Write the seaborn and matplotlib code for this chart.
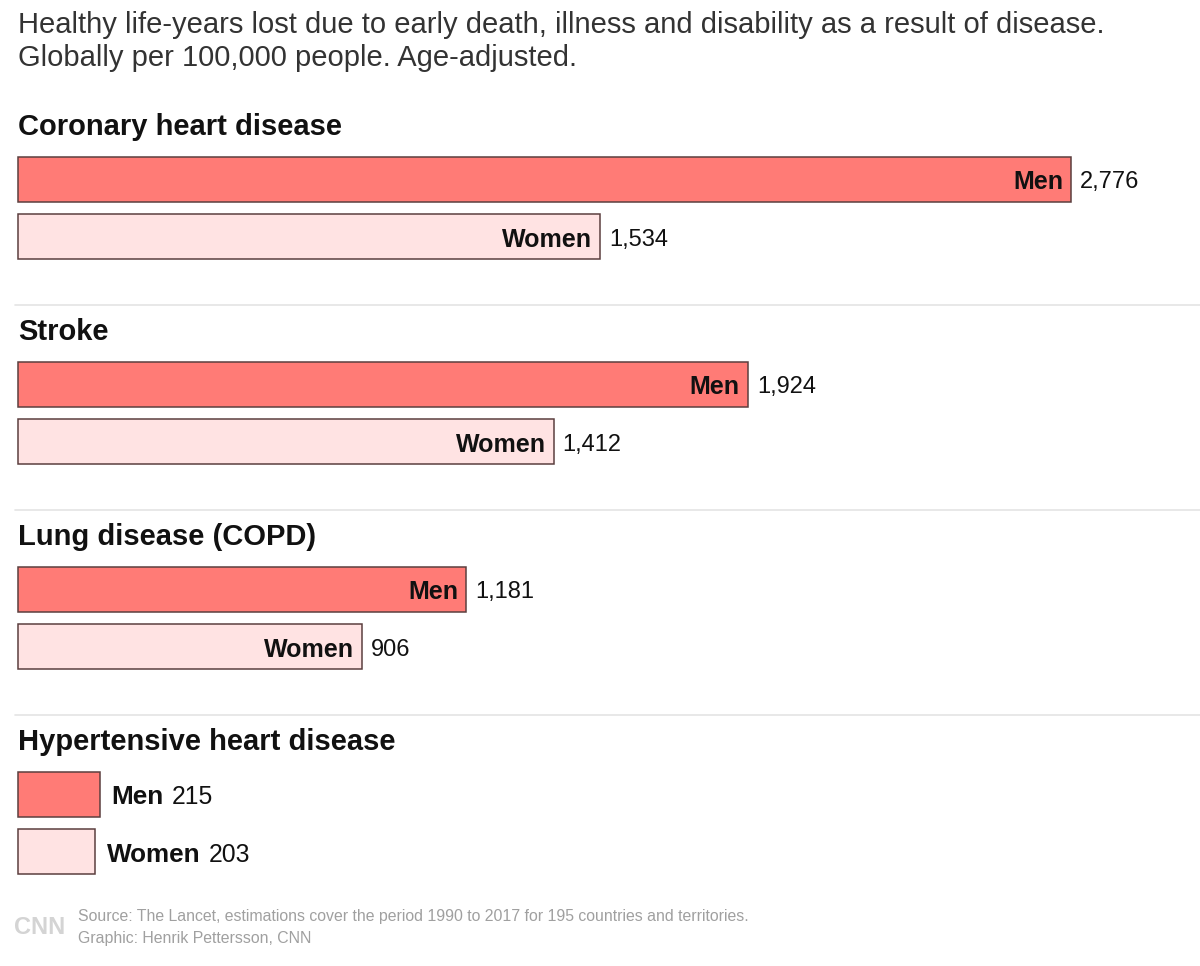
import matplotlib
matplotlib.use("Agg")
import matplotlib.pyplot as plt
import seaborn as sns

sns.set_theme(style="white")
plt.rcParams["font.family"] = ["Liberation Sans", "DejaVu Sans"]

# data
diseases = ["Coronary heart disease", "Stroke", "Lung disease (COPD)", "Hypertensive heart disease"]
sexes = ["Men", "Women"]
men = [2776, 1924, 1181, 215]
women = [1534, 1412, 906, 203]

colors = {"Men": "#ff7b76", "Women": "#ffe3e3"}
edge = "#5b3f3f"

W, H = 1200, 966
fig = plt.figure(figsize=(W / 100, H / 100), dpi=100)


def fy(y):
    return 1 - y / H


fig.text(18 / W, fy(25), "Healthy life-years lost due to early death, illness and disability as a result of disease.",
         fontsize=21, color="#333333", va="center")
fig.text(18 / W, fy(58), "Globally per 100,000 people. Age-adjusted.",
         fontsize=21, color="#333333", va="center")

px_per_unit = 1053 / 2776
left = 18
top0 = 157
step = 205
bar_block = 104  # 1.8 category units of 58 px

for i, name in enumerate(diseases):
    top = top0 + i * step
    fig.text(left / W, fy(top - 30), name, fontsize=21, fontweight="bold", color="#111111", va="center")
    if i > 0:
        fig.add_artist(plt.Line2D([15 / W, 1], [fy(top - 57)] * 2, color="#e4e4e4", lw=1.2))

    ax = fig.add_axes([left / W, fy(top - 1 + bar_block), (W - left) / W, bar_block / H])
    vals = [men[i], women[i]]
    sns.barplot(x=vals, y=sexes, hue=sexes, palette=colors, saturation=1, orient="h", width=0.78,
                edgecolor=edge, linewidth=1.1, legend=False, ax=ax)
    ax.set_xlim(0, (W - left) / px_per_unit)
    ax.set_ylim(1.4, -0.4)
    ax.axis("off")

    for patch, sex, v in zip(ax.patches, sexes, vals):
        patch.set_clip_on(False)
        xe = patch.get_width()
        yc = patch.get_y() + patch.get_height() / 2
        if v > 500:
            ax.annotate(sex, (xe, yc), xytext=(-8, -3), textcoords="offset pixels",
                        ha="right", va="center", fontsize=18, fontweight="bold", color="#111111")
            ax.annotate(f"{v:,}", (xe, yc), xytext=(9, -3), textcoords="offset pixels",
                        ha="left", va="center", fontsize=17, color="#111111")
        else:
            lab = ax.annotate(sex, (xe, yc), xytext=(12, -3), textcoords="offset pixels",
                              ha="left", va="center", fontsize=18.8, fontweight="bold", color="#111111")
            ax.annotate(f"{v:,}", (1, 0.5), xycoords=lab, xytext=(8, 0), textcoords="offset pixels",
                        ha="left", va="center", fontsize=17.8, color="#111111")

# footer
fig.text(14 / W, fy(927), "CNN", fontsize=17, fontweight="bold", color="#d4d4d4", va="center")
fig.text(78 / W, fy(917), "Source: The Lancet, estimations cover the period 1990 to 2017 for 195 countries and territories.",
         fontsize=11.4, color="#a0a0a0", va="center")
fig.text(78 / W, fy(938), "Graphic: Henrik Pettersson, CNN",
         fontsize=11.4, color="#a0a0a0", va="center")

fig.savefig("out.png", dpi=100, facecolor="white")
